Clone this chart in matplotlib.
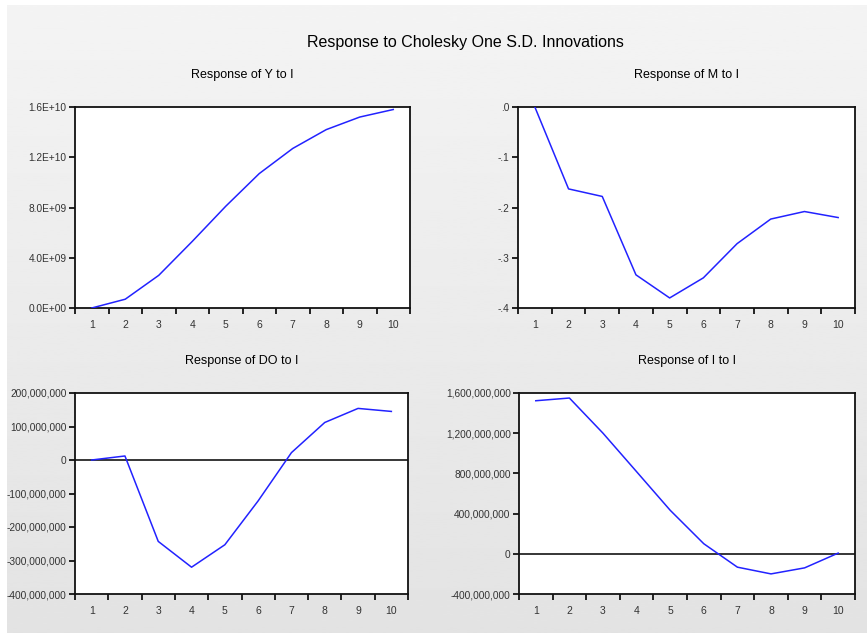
import numpy as np
import matplotlib
matplotlib.use("Agg")
import matplotlib.pyplot as plt
from matplotlib.ticker import FixedLocator, NullFormatter, FuncFormatter

plt.rcParams['font.family'] = ['Liberation Sans', 'DejaVu Sans']

# impulse responses to a shock in I, periods 1..10
periods = np.arange(1, 11)
resp_y = [0.0, 0.7e9, 2.6e9, 5.3e9, 8.1e9, 10.7e9, 12.7e9, 14.2e9, 15.2e9, 15.8e9]
resp_m = [0.0, -0.163, -0.178, -0.334, -0.380, -0.340, -0.272, -0.223, -0.208, -0.220]
resp_do = [0.0, 12e6, -243e6, -320e6, -253e6, -122e6, 22e6, 112e6, 154e6, 145e6]
resp_i = [1523e6, 1550e6, 1200e6, 817e6, 433e6, 100e6, -133e6, -200e6, -140e6, 7e6]

y_ticks = [0.0, 4.0e9, 8.0e9, 12.0e9, 16.0e9]
m_ticks = [-0.4, -0.3, -0.2, -0.1, 0.0]
do_ticks = [-400e6, -300e6, -200e6, -100e6, 0, 100e6, 200e6]
i_ticks = [-400e6, 0, 400e6, 800e6, 1200e6, 1600e6]

W, H = 867, 633
fig = plt.figure(figsize=(W / 100, H / 100), dpi=100)
fig.patch.set_facecolor('white')

# light gray gradient background
bg = fig.add_axes([7 / W, 0, 1 - 7 / W, 1 - 5 / H], zorder=-10)
grad = np.linspace(0.955, 0.89, 256).reshape(-1, 1)
bg.imshow(grad, aspect='auto', cmap='gray', vmin=0, vmax=1, extent=[0, 1, 0, 1])
bg.axis('off')


def sci_fmt(v, pos):
    s = "%.1E" % v
    mant, exp = s.split("E")
    return "%sE+%02d" % (mant, int(exp)) if int(exp) >= 0 else s


def m_fmt(v, pos):
    s = "%.1f" % abs(v)
    s = s[1:] if s.startswith("0") else s
    return ("-" + s) if v < -1e-12 else s


def comma_fmt(v, pos):
    return "{:,.0f}".format(v)


def panel(rect, vals, ticks, fmt, title, zero_line=False):
    l, t, r, b = rect
    ax = fig.add_axes([l / W, 1 - b / H, (r - l) / W, (b - t) / H])
    ax.set_facecolor('white')
    ax.plot(periods, vals, color='#2222ff', lw=1.1, zorder=3)
    if zero_line:
        ax.axhline(0, color='black', lw=1.1, zorder=2)
    ax.set_xlim(0.5, 10.5)
    ax.set_ylim(ticks[0], ticks[-1])
    ax.xaxis.set_major_locator(FixedLocator(np.arange(0.5, 11, 1)))
    ax.xaxis.set_major_formatter(NullFormatter())
    ax.xaxis.set_minor_locator(FixedLocator(periods))
    ax.set_xticklabels([str(p) for p in periods], minor=True)
    ax.tick_params(axis='x', which='major', direction='out', length=4, width=1.2, color='black')
    ax.tick_params(axis='x', which='minor', length=0, pad=9, labelsize=7.5, labelcolor='#333333')
    ax.set_yticks(ticks)
    ax.yaxis.set_major_formatter(FuncFormatter(fmt))
    ax.tick_params(axis='y', direction='out', length=4, width=1.2, labelsize=7.3,
                   labelcolor='#333333', pad=2)
    for s in ax.spines.values():
        s.set_linewidth(1.3)
        s.set_color('#111111')
    fig.text((l + r) / 2 / W, 1 - (t - 32) / H, title, ha='center', va='center', fontsize=9)
    return ax


panel((75, 107, 410, 308), resp_y, y_ticks, sci_fmt, "Response of Y to I")
panel((518, 107, 855, 308), resp_m, m_ticks, m_fmt, "Response of M to I")
panel((75, 393, 408, 594), resp_do, do_ticks, comma_fmt, "Response of DO to I", zero_line=True)
panel((519, 393, 855, 594), resp_i, i_ticks, comma_fmt, "Response of I to I", zero_line=True)

fig.text(465 / W, 1 - 42 / H, "Response to Cholesky One S.D. Innovations",
         ha='center', va='center', fontsize=11.5)

fig.savefig("out.png", dpi=100)
